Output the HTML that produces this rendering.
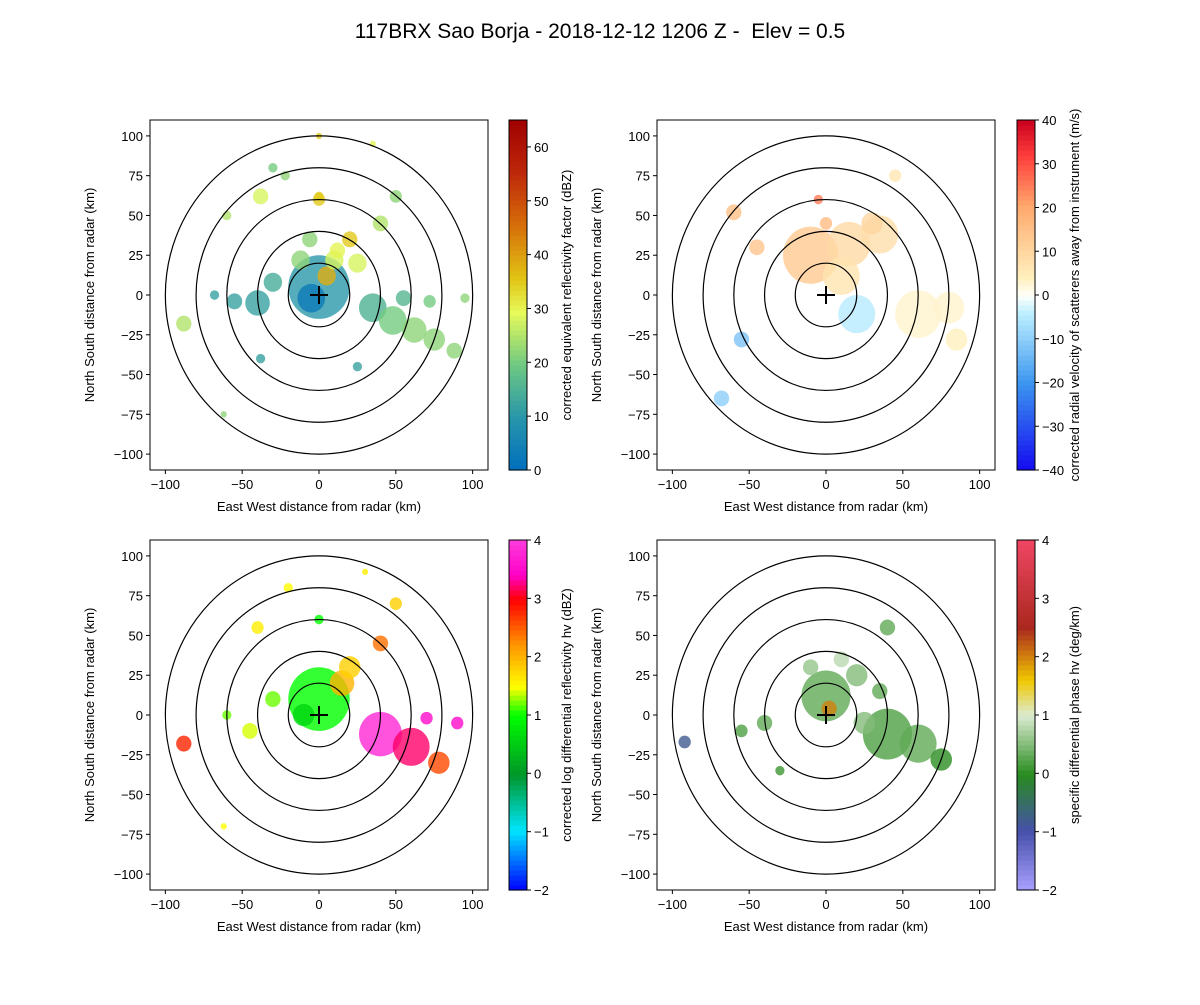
<!DOCTYPE html>
<html><head><meta charset="utf-8"><style>
body{margin:0;background:#fff}
svg text{font-family:"Liberation Sans","DejaVu Sans",sans-serif;fill:#000}
</style></head><body>
<svg id="fig" width="1200" height="1000" viewBox="0 0 1200 1000" xmlns="http://www.w3.org/2000/svg">
<rect width="1200" height="1000" fill="#fff"/>
<text x="600" y="38" font-size="21" text-anchor="middle" style="white-space:pre">117BRX Sao Borja - 2018-12-12 1206 Z -  Elev = 0.5</text>
</svg>
<script>
const ticksKm=[-100,-50,0,50,100];
const ringsKm=[20,40,60,80,100];
// reflectivity echoes: x km, y km, radius km, dBZ
const refX=[0,-5,5,10,-12,12,25,0,35,48,62,75,88,55,72,95,-40,-30,-55,-88,-68,-38,0,40,50,-22,-60,-30,35,0,-38,25,-62,-6,20];
const refY=[5,-2,12,22,22,28,20,60,-8,-16,-22,-28,-35,-2,-4,-2,-5,8,-4,-18,0,62,62,45,62,75,50,80,95,100,-40,-45,-75,35,35];
const refR=[20,9,6,6,6,5,6,4,9,9,8,7,5,5,4,3,8,6,5,5,3,5,3,5,4,3,3,3,2,2,3,3,2,5,5];
const refV=[10,3,38,28,22,30,28,35,15,20,22,22,22,16,20,22,12,14,12,25,12,28,35,25,22,22,25,20,30,35,12,12,22,22,35];
// velocity echoes
const velX=[-10,15,35,10,20,60,80,85,-60,-55,-68,-5,45,0,-45,30];
const velY=[25,32,38,12,-12,-12,-8,-28,52,-28,-65,60,75,45,30,45];
const velR=[18,14,12,12,12,15,10,7,5,5,5,3,4,4,5,7];
const velV=[13,9,8,7,-5,3,3,4,15,-12,-10,25,6,16,14,10];
// differential reflectivity echoes
const zdrX=[0,-10,15,40,60,78,90,20,-30,-45,-60,-88,-40,0,40,50,-20,30,70,-62];
const zdrY=[10,0,20,-12,-20,-30,-5,30,10,-10,0,-18,55,60,45,70,80,90,-2,-70];
const zdrR=[20,7,8,14,12,7,4,7,5,5,3,5,4,3,5,4,3,2,4,2];
const zdrV=[1,0.6,2,3.8,3.2,2.6,3.5,1.8,1.2,1.4,1.2,2.8,1.6,1.0,2.4,1.8,1.5,1.6,3.5,1.5];
// specific differential phase echoes
const kdpX=[0,2,40,60,75,20,-40,-55,-92,-30,40,10,-10,25,35];
const kdpY=[12,4,-12,-18,-28,25,-5,-10,-17,-35,55,35,30,-5,15];
const kdpR=[16,5,16,12,7,7,5,4,4,3,5,5,5,7,5];
const kdpV=[0.3,2.0,0.2,0.3,0.0,0.5,0.3,0.2,-0.8,0.1,0.3,0.8,0.6,0.5,0.3];

const SVGNS="http://www.w3.org/2000/svg";
const fig=document.getElementById('fig');
function mk(tag,attrs,parent){const e=document.createElementNS(SVGNS,tag);for(const k in attrs)e.setAttribute(k,attrs[k]);(parent||fig).appendChild(e);return e;}
function hex(c){return 'rgb('+c.map(v=>Math.round(v)).join(',')+')';}
function cmapFn(stops){return t=>{t=Math.max(0,Math.min(1,t));for(let i=1;i<stops.length;i++){if(t<=stops[i][0]){const a=stops[i-1],b=stops[i];const f=(t-a[0])/(b[0]-a[0]||1);return hex([0,1,2].map(j=>a[1][j]+(b[1][j]-a[1][j])*f));}}return hex(stops[stops.length-1][1]);};}
const cmRef=cmapFn([[0,[0,110,190]],[0.15,[40,150,170]],[0.3,[110,200,130]],[0.45,[230,250,90]],[0.55,[225,195,20]],[0.7,[215,110,10]],[0.85,[190,40,10]],[1,[160,0,0]]]);
const cmVel=cmapFn([[0,[20,10,240]],[0.25,[60,150,240]],[0.45,[190,240,255]],[0.5,[255,255,250]],[0.55,[255,240,190]],[0.75,[255,170,110]],[0.9,[255,60,60]],[1,[200,0,30]]]);
const cmZdr=cmapFn([[0,[0,0,255]],[0.17,[0,230,255]],[0.33,[0,150,40]],[0.5,[0,255,0]],[0.58,[255,255,0]],[0.7,[255,150,0]],[0.83,[255,0,0]],[0.9,[255,0,200]],[1,[255,60,220]]]);
const cmKdp=cmapFn([[0,[170,160,255]],[0.17,[70,80,170]],[0.33,[40,140,30]],[0.5,[220,235,210]],[0.6,[240,200,0]],[0.75,[170,40,30]],[1,[240,70,100]]]);

const panels=[
 {name:'reflectivity',x0:150,y0:120,xs:refX,ys:refY,rs:refR,vs:refV,vmin:0,vmax:65,cm:cmRef,cbTicks:[0,10,20,30,40,50,60],cbLabel:'corrected equivalent reflectivity factor (dBZ)',cbx:509},
 {name:'velocity',x0:657,y0:120,xs:velX,ys:velY,rs:velR,vs:velV,vmin:-40,vmax:40,cm:cmVel,cbTicks:[-40,-30,-20,-10,0,10,20,30,40],cbLabel:'corrected radial velocity of scatterers away from instrument (m/s)',cbx:1017},
 {name:'differential-reflectivity',x0:150,y0:540,xs:zdrX,ys:zdrY,rs:zdrR,vs:zdrV,vmin:-2,vmax:4,cm:cmZdr,cbTicks:[-2,-1,0,1,2,3,4],cbLabel:'corrected log differential reflectivity hv (dBZ)',cbx:509},
 {name:'differential-phase',x0:657,y0:540,xs:kdpX,ys:kdpY,rs:kdpR,vs:kdpV,vmin:-2,vmax:4,cm:cmKdp,cbTicks:[-2,-1,0,1,2,3,4],cbLabel:'specific differential phase hv (deg/km)',cbx:1017}
];
const W=338,H=350;
panels.forEach((p,pi)=>{
 const g=mk('g',{});
 
 
 const sx=km=>p.x0+(km+110)/220*W, sy=km=>p.y0+(110-km)/220*H;
 const cid='clip'+pi;
 const cp=mk('clipPath',{id:cid},g);mk('rect',{x:p.x0,y:p.y0,width:W,height:H},cp);
 const dg=mk('g',{'clip-path':'url(#'+cid+')'},g);
 p.xs.forEach((x,i)=>{
  const e=mk('ellipse',{cx:sx(x),cy:sy(p.ys[i]),rx:p.rs[i]*W/220,ry:p.rs[i]*H/220,fill:p.cm((p.vs[i]-p.vmin)/(p.vmax-p.vmin)),opacity:0.8},dg);
  
  
 });
 ringsKm.forEach(r=>{
  const e=mk('ellipse',{cx:sx(0),cy:sy(0),rx:r*W/220,ry:r*H/220,fill:'none',stroke:'#000','stroke-width':1.2},dg);
  
  
 });
 mk('path',{d:`M${sx(0)-9},${sy(0)}h18M${sx(0)},${sy(0)-9}v18`,stroke:'#000','stroke-width':2},g);
 const fr=mk('rect',{x:p.x0,y:p.y0,width:W,height:H,fill:'none',stroke:'#000','stroke-width':1},g);
 
 
 ticksKm.forEach(t=>{
  mk('line',{x1:sx(t),x2:sx(t),y1:p.y0+H,y2:p.y0+H+4,stroke:'#000'},g);
  const tx=mk('text',{x:sx(t),y:p.y0+H+19,'font-size':13,'text-anchor':'middle'},g);tx.textContent=t<0?'\u2212'+(-t):t;
  
  
 });
 [-100,-75,-50,-25,0,25,50,75,100].forEach(t=>{
  mk('line',{x1:p.x0-4,x2:p.x0,y1:sy(t),y2:sy(t),stroke:'#000'},g);
  const tx=mk('text',{x:p.x0-7,y:sy(t)+5,'font-size':13,'text-anchor':'end'},g);tx.textContent=t<0?'\u2212'+(-t):t;
  
  
 });
 const xl=mk('text',{x:p.x0+W/2,y:p.y0+H+41,'font-size':13,'text-anchor':'middle'},g);xl.textContent='East West distance from radar (km)';
 
 
 const yl=mk('text',{x:0,y:0,'font-size':13,'text-anchor':'middle',transform:`translate(${p.x0-56},${p.y0+H/2}) rotate(-90)`},g);yl.textContent='North South distance from radar (km)';
 
 
 const cb=mk('g',{},g);
 
 
 const N=70,cw=18;
 for(let i=0;i<N;i++){mk('rect',{x:p.cbx,y:p.y0+H-(i+1)*H/N,width:cw,height:H/N+0.6,fill:p.cm((i+0.5)/N)},cb);}
 mk('rect',{x:p.cbx,y:p.y0,width:cw,height:H,fill:'none',stroke:'#000','stroke-width':1},cb);
 p.cbTicks.forEach(t=>{
  const y=p.y0+H-(t-p.vmin)/(p.vmax-p.vmin)*H;
  mk('line',{x1:p.cbx+cw,x2:p.cbx+cw+4,y1:y,y2:y,stroke:'#000'},cb);
  const tx=mk('text',{x:p.cbx+cw+7,y:y+5,'font-size':13},cb);tx.textContent=t<0?'\u2212'+(-t):t;
  
  
 });
 const cl=mk('text',{x:0,y:0,'font-size':13,'text-anchor':'middle',transform:`translate(${p.cbx+cw+44},${p.y0+H/2}) rotate(-90)`},cb);cl.textContent=p.cbLabel;
 
 
});
</script>
</body></html>
